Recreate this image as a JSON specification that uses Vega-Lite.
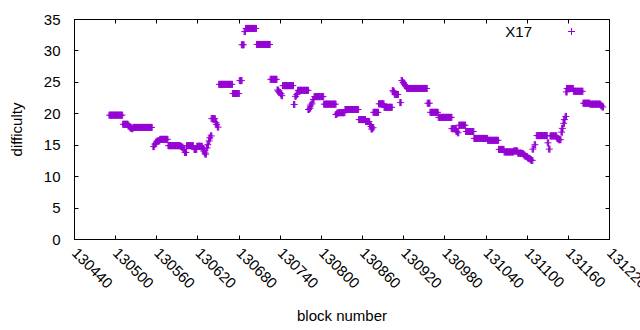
{
"$schema":"https://vega.github.io/schema/vega-lite/v6.json",
"width":535,"height":220,
"autosize":{"type":"none"},
"padding":{"left":74,"top":19,"right":31,"bottom":91},
"config":{"font":"Liberation Sans","view":{"stroke":"#000","strokeWidth":1},
 "axis":{"labelFont":"Liberation Sans","titleFont":"Liberation Sans","labelColor":"#000","titleColor":"#000","tickColor":"#000","domainColor":"#000","grid":false,"titleFontWeight":"normal","labelFontSize":15,"titleFontSize":15,"tickSize":-4,"labelOverlap":false,"labelFlush":false,"labelBound":false}},
"data":{"values":[
{"b":130492,"d":19.7},{"b":130494,"d":19.7},{"b":130496,"d":19.7},{"b":130498,"d":19.7},{"b":130500,"d":19.7},{"b":130502,"d":19.7},{"b":130504,"d":19.7},{"b":130506,"d":19.7},{"b":130508,"d":19.7},{"b":130510,"d":19.7},
{"b":130512,"d":18.25},{"b":130514,"d":18.25},{"b":130516,"d":18.25},{"b":130518,"d":18.25},
{"b":130520,"d":17.95},{"b":130522,"d":17.8},{"b":130523,"d":17.65},{"b":130525,"d":17.55},
{"b":130527,"d":17.75},{"b":130529,"d":17.75},{"b":130531,"d":17.75},{"b":130533,"d":17.75},{"b":130535,"d":17.75},{"b":130537,"d":17.75},{"b":130539,"d":17.75},{"b":130541,"d":17.75},{"b":130543,"d":17.75},{"b":130545,"d":17.75},{"b":130547,"d":17.75},{"b":130549,"d":17.75},{"b":130551,"d":17.75},{"b":130553,"d":17.75},
{"b":130556,"d":14.7},{"b":130558,"d":15.1},{"b":130560,"d":15.4},{"b":130562,"d":15.6},{"b":130564,"d":15.6},
{"b":130566,"d":15.85},{"b":130568,"d":15.85},{"b":130570,"d":15.85},{"b":130572,"d":15.85},{"b":130574,"d":15.85},{"b":130576,"d":15.85},
{"b":130578,"d":14.85},{"b":130580,"d":14.85},{"b":130582,"d":14.85},{"b":130584,"d":14.85},{"b":130586,"d":14.85},{"b":130588,"d":14.85},{"b":130590,"d":14.85},{"b":130592,"d":14.85},{"b":130594,"d":14.85},
{"b":130596,"d":14.75},{"b":130598,"d":14.6},{"b":130600,"d":14.3},{"b":130602,"d":13.8},{"b":130603,"d":13.75},
{"b":130605,"d":14.85},{"b":130607,"d":14.85},{"b":130609,"d":14.85},{"b":130611,"d":14.85},{"b":130613,"d":14.85},
{"b":130616,"d":14.25},{"b":130618,"d":14.25},
{"b":130620,"d":14.75},{"b":130622,"d":14.75},{"b":130624,"d":14.75},{"b":130626,"d":14.75},
{"b":130628,"d":14.4},{"b":130629,"d":14.0},{"b":130631,"d":13.7},{"b":130632,"d":13.5},{"b":130634,"d":14.5},{"b":130635,"d":15.0},{"b":130637,"d":15.6},{"b":130638,"d":16.1},{"b":130640,"d":16.4},
{"b":130641,"d":19.15},{"b":130643,"d":19.15},{"b":130645,"d":19.15},
{"b":130647,"d":18.5},{"b":130648,"d":18.2},{"b":130650,"d":17.8},
{"b":130652,"d":24.6},{"b":130654,"d":24.6},{"b":130656,"d":24.6},{"b":130658,"d":24.6},{"b":130660,"d":24.6},{"b":130662,"d":24.6},{"b":130664,"d":24.6},{"b":130666,"d":24.6},{"b":130668,"d":24.6},{"b":130670,"d":24.6},
{"b":130672,"d":23.15},{"b":130674,"d":23.15},{"b":130676,"d":23.15},{"b":130678,"d":23.15},{"b":130680,"d":23.15},
{"b":130682,"d":25.2},{"b":130684,"d":25.2},
{"b":130685,"d":30.9},{"b":130687,"d":30.9},{"b":130689,"d":33.0},
{"b":130691,"d":33.5},{"b":130693,"d":33.5},{"b":130695,"d":33.5},{"b":130697,"d":33.5},{"b":130699,"d":33.5},{"b":130701,"d":33.5},{"b":130703,"d":33.5},{"b":130705,"d":33.5},
{"b":130707,"d":30.95},{"b":130709,"d":30.95},{"b":130711,"d":30.95},{"b":130713,"d":30.95},{"b":130715,"d":30.95},{"b":130717,"d":30.95},{"b":130719,"d":30.95},{"b":130721,"d":30.95},{"b":130723,"d":30.95},{"b":130725,"d":30.95},
{"b":130727,"d":25.4},{"b":130729,"d":25.4},{"b":130731,"d":25.4},{"b":130733,"d":25.4},{"b":130735,"d":25.4},
{"b":130737,"d":23.7},{"b":130738,"d":23.5},{"b":130740,"d":23.3},{"b":130742,"d":23.1},{"b":130743,"d":22.8},
{"b":130745,"d":24.4},{"b":130747,"d":24.4},{"b":130749,"d":24.4},{"b":130751,"d":24.4},{"b":130753,"d":24.4},{"b":130755,"d":24.4},{"b":130757,"d":24.4},{"b":130759,"d":24.4},
{"b":130761,"d":21.4},{"b":130763,"d":22.7},{"b":130765,"d":23.0},
{"b":130767,"d":23.65},{"b":130769,"d":23.65},{"b":130771,"d":23.65},{"b":130773,"d":23.65},{"b":130775,"d":23.65},{"b":130777,"d":23.65},{"b":130779,"d":23.65},{"b":130781,"d":23.65},
{"b":130782,"d":20.6},{"b":130784,"d":20.8},{"b":130785,"d":21.3},{"b":130787,"d":21.5},{"b":130789,"d":22.2},
{"b":130791,"d":22.65},{"b":130793,"d":22.65},{"b":130795,"d":22.65},{"b":130797,"d":22.65},{"b":130799,"d":22.65},{"b":130801,"d":22.65},{"b":130803,"d":22.65},
{"b":130805,"d":21.45},{"b":130807,"d":21.45},{"b":130809,"d":21.45},{"b":130811,"d":21.45},{"b":130813,"d":21.45},{"b":130815,"d":21.45},{"b":130817,"d":21.45},{"b":130819,"d":21.45},{"b":130821,"d":21.45},
{"b":130822,"d":19.8},{"b":130824,"d":20.0},
{"b":130826,"d":20.1},{"b":130828,"d":20.1},{"b":130830,"d":20.1},{"b":130832,"d":20.1},{"b":130834,"d":20.1},
{"b":130836,"d":20.6},{"b":130838,"d":20.6},{"b":130840,"d":20.6},{"b":130842,"d":20.6},{"b":130844,"d":20.6},{"b":130846,"d":20.6},{"b":130848,"d":20.6},{"b":130850,"d":20.6},{"b":130852,"d":20.6},{"b":130854,"d":20.6},
{"b":130856,"d":19.0},{"b":130858,"d":19.0},{"b":130860,"d":19.0},{"b":130862,"d":19.0},{"b":130864,"d":19.0},
{"b":130866,"d":18.7},{"b":130868,"d":18.7},{"b":130870,"d":18.7},
{"b":130872,"d":18.2},{"b":130873,"d":17.9},{"b":130874,"d":17.5},{"b":130876,"d":17.7},
{"b":130877,"d":20.15},{"b":130879,"d":20.15},{"b":130881,"d":20.15},{"b":130883,"d":20.15},
{"b":130885,"d":21.5},{"b":130887,"d":21.5},{"b":130889,"d":21.5},{"b":130891,"d":21.5},
{"b":130893,"d":20.95},{"b":130895,"d":20.95},{"b":130897,"d":20.95},{"b":130899,"d":20.95},{"b":130901,"d":20.95},{"b":130903,"d":20.95},
{"b":130905,"d":23.6},{"b":130906,"d":23.4},{"b":130908,"d":23.0},{"b":130910,"d":23.0},{"b":130912,"d":23.0},
{"b":130916,"d":21.7},
{"b":130918,"d":25.2},{"b":130920,"d":24.9},{"b":130922,"d":24.6},{"b":130924,"d":24.3},
{"b":130926,"d":23.95},{"b":130928,"d":23.95},{"b":130930,"d":23.95},{"b":130932,"d":23.95},{"b":130934,"d":23.95},{"b":130936,"d":23.95},{"b":130938,"d":23.95},{"b":130940,"d":23.95},{"b":130942,"d":23.95},{"b":130944,"d":23.95},{"b":130946,"d":23.95},{"b":130948,"d":23.95},{"b":130950,"d":23.95},{"b":130952,"d":23.95},{"b":130954,"d":23.95},
{"b":130956,"d":21.6},{"b":130958,"d":21.6},
{"b":130960,"d":20.15},{"b":130962,"d":20.15},{"b":130964,"d":20.15},{"b":130966,"d":20.15},{"b":130968,"d":20.15},{"b":130970,"d":20.15},
{"b":130972,"d":19.35},{"b":130974,"d":19.35},{"b":130976,"d":19.35},{"b":130978,"d":19.35},{"b":130980,"d":19.35},{"b":130982,"d":19.35},{"b":130984,"d":19.35},{"b":130986,"d":19.35},{"b":130988,"d":19.35},{"b":130990,"d":19.35},
{"b":130991,"d":17.55},{"b":130993,"d":17.55},{"b":130995,"d":17.55},{"b":130997,"d":17.55},{"b":130998,"d":17.1},{"b":131000,"d":16.9},
{"b":131002,"d":18.1},{"b":131004,"d":18.1},{"b":131006,"d":18.1},{"b":131008,"d":18.1},{"b":131010,"d":18.1},
{"b":131012,"d":17.1},{"b":131014,"d":17.1},{"b":131016,"d":17.1},{"b":131018,"d":17.1},{"b":131020,"d":17.1},{"b":131022,"d":17.1},
{"b":131024,"d":16.0},{"b":131026,"d":16.0},{"b":131028,"d":16.0},{"b":131030,"d":16.0},{"b":131032,"d":16.0},{"b":131034,"d":16.0},{"b":131036,"d":16.0},{"b":131038,"d":16.0},{"b":131040,"d":16.0},{"b":131042,"d":16.0},
{"b":131044,"d":15.7},{"b":131046,"d":15.7},{"b":131048,"d":15.7},{"b":131050,"d":15.7},{"b":131052,"d":15.7},{"b":131054,"d":15.7},{"b":131056,"d":15.7},{"b":131058,"d":15.7},
{"b":131060,"d":14.25},{"b":131062,"d":14.25},{"b":131064,"d":14.25},{"b":131066,"d":14.25},
{"b":131068,"d":13.85},{"b":131070,"d":13.85},{"b":131072,"d":13.85},{"b":131074,"d":13.85},{"b":131076,"d":13.85},{"b":131078,"d":13.85},{"b":131080,"d":13.85},
{"b":131082,"d":14.0},{"b":131084,"d":14.0},{"b":131086,"d":14.0},
{"b":131088,"d":13.65},{"b":131090,"d":13.65},{"b":131092,"d":13.65},{"b":131094,"d":13.6},
{"b":131096,"d":13.4},{"b":131098,"d":13.2},{"b":131100,"d":13.1},{"b":131102,"d":12.9},{"b":131104,"d":12.8},{"b":131106,"d":12.6},{"b":131108,"d":12.5},
{"b":131109,"d":14.3},{"b":131112,"d":15.0},
{"b":131115,"d":16.45},{"b":131117,"d":16.45},{"b":131119,"d":16.45},{"b":131121,"d":16.45},{"b":131123,"d":16.45},{"b":131125,"d":16.45},{"b":131127,"d":16.45},{"b":131129,"d":16.45},
{"b":131131,"d":15.3},{"b":131133,"d":14.3},
{"b":131135,"d":16.4},{"b":131137,"d":16.4},{"b":131139,"d":16.4},{"b":131141,"d":16.4},{"b":131143,"d":16.4},
{"b":131145,"d":16.0},{"b":131147,"d":15.8},{"b":131149,"d":15.8},
{"b":131151,"d":17.0},{"b":131152,"d":17.6},{"b":131154,"d":18.4},{"b":131155,"d":19.0},{"b":131157,"d":19.5},
{"b":131158,"d":23.4},
{"b":131159,"d":23.95},{"b":131161,"d":23.95},{"b":131163,"d":23.95},{"b":131165,"d":23.95},{"b":131167,"d":23.95},
{"b":131169,"d":23.5},{"b":131171,"d":23.5},{"b":131173,"d":23.5},{"b":131175,"d":23.5},{"b":131177,"d":23.5},{"b":131179,"d":23.5},{"b":131181,"d":23.5},
{"b":131183,"d":21.6},{"b":131185,"d":21.6},{"b":131187,"d":21.6},{"b":131189,"d":21.6},{"b":131191,"d":21.6},
{"b":131193,"d":21.45},{"b":131195,"d":21.45},{"b":131197,"d":21.45},{"b":131199,"d":21.45},{"b":131201,"d":21.45},{"b":131203,"d":21.45},{"b":131205,"d":21.45},{"b":131207,"d":21.45},
{"b":131209,"d":21.2},{"b":131211,"d":21.0}
]},
"layer":[
{"mark":{"type":"point","shape":"M-1,0H1M-0.2,-1V1M0,-1V1M0.2,-1V1","filled":false,"size":49,"strokeWidth":1,"opacity":1},
 "encoding":{
  "x":{"field":"b","type":"quantitative","scale":{"domain":[130440,131220],"nice":false,"zero":false},
   "axis":{"orient":"bottom","values":[130440,130500,130560,130620,130680,130740,130800,130860,130920,130980,131040,131100,131160,131220],"format":"d","labelAngle":45,"labelAlign":"left","labelBaseline":"middle","labelPadding":15,"title":"block number","titleY":81,"titleBaseline":"alphabetic"}},
  "y":{"field":"d","type":"quantitative","scale":{"domain":[0,35],"nice":false,"zero":false},
   "axis":{"orient":"left","values":[0,5,10,15,20,25,30,35],"labelPadding":18,"title":"difficulty","titleX":-58,"titleBaseline":"middle"}},
  "color":{"datum":"X17","type":"nominal","scale":{"range":["#9400d3"]},
   "legend":{"orient":"none","legendX":490,"legendY":5,"title":null,"symbolType":"M-1,0H1M0,-1V1","symbolSize":49,"symbolStrokeWidth":1,"labelAlign":"right","labelOffset":-47,"labelFontSize":15,"labelColor":"#000","labelFont":"Liberation Sans",
    "symbolOpacity":1,"symbolStrokeColor":"#9400d3",
    "encode":{"symbols":{"update":{"stroke":{"value":"#9400d3"},"fill":{"value":"transparent"},"opacity":{"value":1},"strokeWidth":{"value":1}}}}}}
 }},
{"mark":{"type":"point","opacity":0},
 "encoding":{
  "x":{"field":"b","type":"quantitative","axis":{"orient":"top","values":[130440,130500,130560,130620,130680,130740,130800,130860,130920,130980,131040,131100,131160,131220],"labels":false,"title":null,"domain":false}},
  "y":{"field":"d","type":"quantitative","axis":{"orient":"right","values":[0,5,10,15,20,25,30,35],"labels":false,"title":null,"domain":false}}
 }}
],
"resolve":{"axis":{"x":"independent","y":"independent"}}
}
